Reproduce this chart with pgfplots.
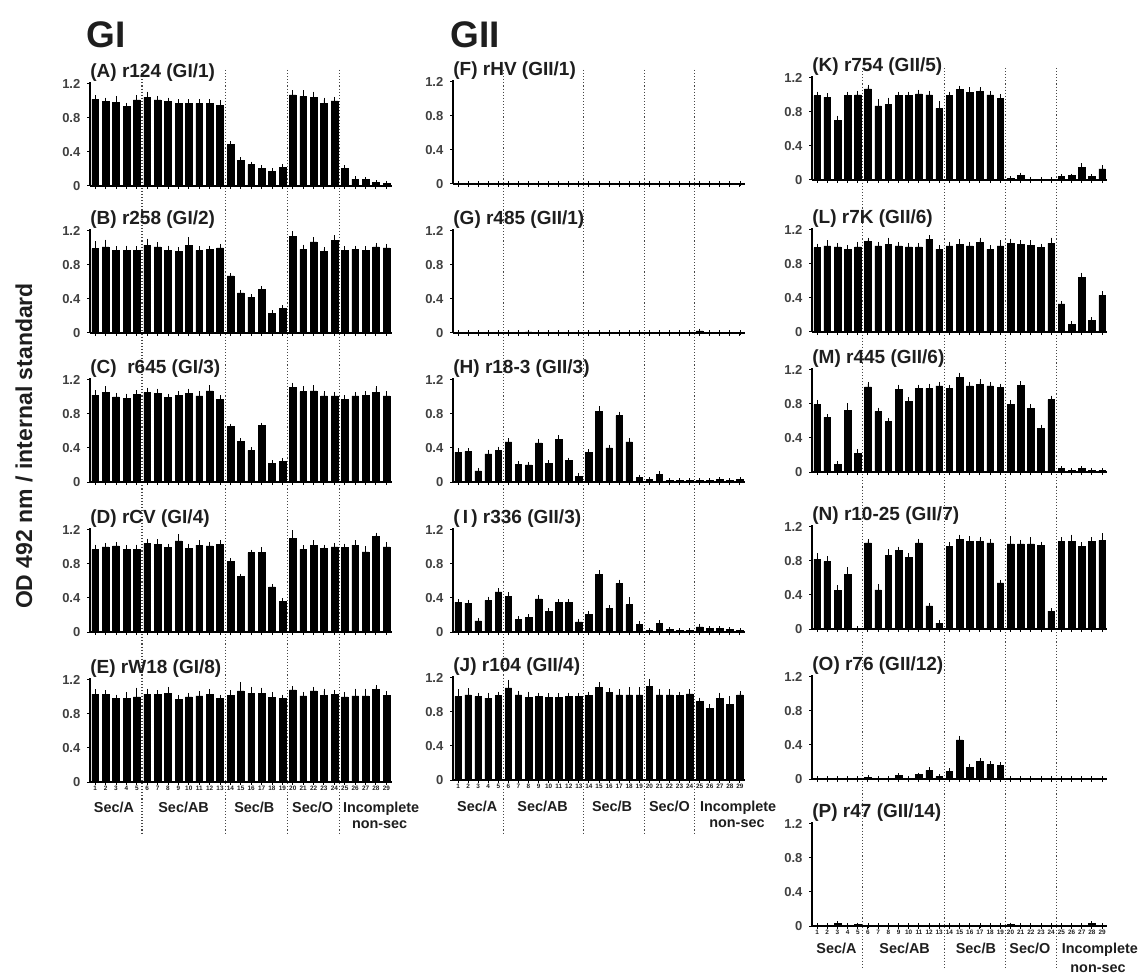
\documentclass[border=0pt]{standalone}
\usepackage{fontspec}
\setmainfont{Liberation Sans}
\usepackage{pgfplots}
\usepackage{pgfplotstable}
\pgfplotsset{compat=1.18}

\pgfplotstableread{
x A eA B eB C eC D eD E eE F G H eH I eI J eJ K eK L eL M eM N eN O eO P z
1 1.02 .02 0.99 .06 1.02 .03 0.97 .03 1.03 .03 .005 .005 .35 .02 .35 .01 .98 .06 .99 .02 .99 .02 .79 .03 .82 .04 .005 0 .005 0
2 .99 .02 1.01 .06 1.05 .05 1.00 .02 1.03 .02 .005 .005 .36 .01 .34 .01 1.00 .05 .97 .02 1.01 .04 .64 .01 .79 .04 .005 0 .005 0
3 .98 .05 .97 .02 1.00 .02 1.01 .02 .98 .02 .005 .005 .13 .01 .13 .01 .98 .02 .70 .03 1.00 .02 .09 .01 .45 .04 .008 0 .03 0
4 .93 .02 .97 .03 .98 .03 .97 .02 .98 .05 .005 .005 .33 .02 .37 .02 .96 .04 .99 .02 .97 .02 .72 .06 .64 .06 .005 0 .005 0
5 1.01 .03 .97 .02 1.03 .02 .97 .03 1.00 .08 .005 .005 .37 .02 .47 .02 .99 .02 1.00 .02 1.00 .03 .22 .02 .01 0 .005 0 .015 0
6 1.04 .04 1.03 .05 1.05 .03 1.04 .03 1.03 .04 .005 .005 .47 .02 .42 .02 1.08 .07 1.07 .02 1.06 .02 1.00 .03 1.01 .02 .02 0 .005 0
7 1.01 .02 1.01 .03 1.04 .03 1.03 .03 1.03 .02 .005 .005 .21 .01 .15 .01 1.00 .02 .87 .05 1.01 .02 .71 .02 .46 .04 .005 0 .005 0
8 .99 .02 .97 .03 .99 .02 .99 .02 1.04 .05 .005 .012 .20 .01 .17 .01 .97 .04 .89 .05 1.03 .05 .59 .02 .86 .05 .005 0 .005 0
9 .97 .02 .96 .02 1.02 .02 1.07 .05 .97 .02 .005 .005 .46 .02 .39 .02 .98 .02 .99 .02 1.01 .02 .97 .03 .92 .02 .04 0 .005 0
10 .97 .02 1.03 .07 1.04 .03 .98 .03 1.00 .02 .005 .005 .22 .01 .24 .01 .97 .02 .99 .02 1.00 .02 .83 .02 .84 .02 .005 0 .005 0
11 .97 .02 .97 .02 1.01 .03 1.02 .03 1.01 .03 .005 .005 .50 .02 .35 .01 .97 .02 1.01 .02 1.00 .02 .98 .02 1.01 .02 .05 0 .01 0
12 .97 .02 .98 .02 1.07 .04 1.01 .02 1.03 .03 .005 .005 .25 .01 .35 .01 .98 .02 1.00 .02 1.09 .02 .98 .03 .27 .01 .10 .01 .005 0
13 .95 .03 1.00 .02 .97 .02 1.03 .02 .98 .02 .005 .005 .07 .01 .12 .01 .98 .02 .84 .06 .97 .02 1.01 .02 .07 .01 .03 0 .005 0
14 .49 .01 .67 .01 .65 .01 .83 .01 1.02 .03 .005 .005 .35 .01 .21 .01 .99 .02 .99 .02 1.01 .02 .98 .02 .97 .02 .09 .01 .005 0
15 .30 .01 .47 .01 .48 .01 .65 .01 1.07 .08 .005 .005 .83 .03 .68 .02 1.09 .03 1.06 .02 1.03 .03 1.11 .03 1.05 .03 .46 .02 .01 0
16 .25 .01 .42 .01 .37 .01 .93 .01 1.04 .05 .005 .005 .40 .01 .28 .01 1.03 .02 1.03 .03 1.01 .02 1.01 .02 1.03 .03 .14 .01 .005 0
17 .21 .01 .51 .01 .66 .01 .93 .04 1.04 .04 .005 .005 .78 .02 .57 .02 1.00 .04 1.04 .02 1.05 .03 1.03 .03 1.03 .02 .21 .01 .005 0
18 .17 .01 .23 .01 .22 .01 .53 .01 .99 .04 .005 .005 .47 .02 .32 .06 1.00 .06 1.00 .02 .97 .02 1.01 .02 1.01 .02 .17 .01 .005 0
19 .22 .01 .29 .01 .24 .01 .36 .01 .98 .02 .005 .005 .05 .01 .09 .01 1.00 .06 .96 .02 1.01 .04 .99 .02 .54 .01 .16 .01 .005 0
20 1.07 .03 1.13 .04 1.11 .03 1.10 .07 1.08 .02 .005 .005 .03 0 .02 0 1.10 .06 .02 0 1.04 .03 .79 .03 1.00 .06 .005 0 .015 0
21 1.05 .05 .98 .03 1.06 .04 .97 .02 1.01 .02 .005 .005 .09 .01 .10 .01 1.00 .04 .05 .01 1.03 .02 1.02 .02 1.00 .02 .005 0 .005 0
22 1.04 .04 1.07 .03 1.07 .04 1.02 .03 1.07 .02 .005 .005 .02 0 .03 0 1.00 .04 .01 0 1.02 .03 .75 .02 1.00 .05 .005 0 .005 0
23 .97 .04 .96 .02 1.01 .03 .98 .02 1.02 .05 .005 .005 .02 0 .02 0 .99 .02 .01 0 .99 .02 .51 .02 .98 .02 .005 0 .005 0
24 1.00 .02 1.09 .03 1.01 .02 1.00 .02 1.03 .02 .005 .005 .02 0 .02 0 1.01 .03 .01 0 1.04 .04 .85 .02 .21 .01 .005 0 .005 0
25 .21 .01 .97 .02 .97 .02 .99 .02 1.00 .03 .005 .025 .02 0 .06 .01 .92 .02 .04 0 .33 .01 .04 0 1.03 .02 .005 0 .005 0
26 .08 .01 .98 .02 1.01 .02 1.02 .03 1.01 .06 .005 .005 .02 0 .04 0 .84 .02 .05 0 .09 .01 .02 0 1.03 .05 .005 0 .005 0
27 .08 0 .97 .02 1.02 .02 .94 .04 1.01 .06 .005 .005 .03 0 .04 0 .96 .04 .15 .02 .64 .03 .04 0 .97 .02 .005 0 .005 0
28 .04 0 1.01 .02 1.05 .05 1.12 .02 1.09 .02 .005 .005 .02 0 .03 0 .89 .07 .04 0 .14 .01 .02 0 1.03 .02 .005 0 .03 0
29 .03 0 1.00 .02 1.01 .03 1.00 .03 1.02 .02 .005 .005 .03 0 .02 0 1.00 .02 .13 .02 .43 .02 .02 0 1.04 .06 .005 0 .005 0
}\data

\definecolor{txt}{HTML}{1E1E1E}
\tikzset{
  ttl/.style={anchor=base west, inner sep=0pt, yshift=3pt, text=txt,
    font=\fontsize{9.5}{11}\selectfont\bfseries},
  grp/.style={anchor=base, inner sep=0pt, text=txt, font=\fontsize{7.2}{8}\selectfont\bfseries},
  dl/.style={densely dotted, line width=0.55pt, black!72},
}
\pgfplotsset{
  panel/.style={
    scale only axis, height=52pt,
    xmin=0.5, xmax=29.5, ymin=0, ymax=1.22,
    axis x line=bottom, axis y line=left,
    axis line style={-, line width=0.6pt, black},
    xtick={1,2,...,29}, xticklabels={},
    ytick={0,0.4,0.8,1.2}, yticklabels={0,0.4,0.8,1.2},
    tick align=outside, major tick length=1.3pt,
    tick style={black, line width=0.5pt},
    yticklabel style={font=\fontsize{6.5}{7}\selectfont\bfseries, text=txt!85},
    xticklabel style={font=\fontsize{3.2}{3.5}\selectfont\bfseries, inner sep=0.6pt, text=txt},
    ybar, bar width=0.65,
    clip=false,
  },
  bars/.style={fill=black, draw=black, line width=0.25pt,
    /pgfplots/error bars/y dir=plus, /pgfplots/error bars/y explicit,
    /pgfplots/error bars/error bar style={line width=0.45pt, black},
    /pgfplots/error bars/error mark options={line width=0.45pt, black, mark size=1.1pt}},
  bgcol/.style={scale only axis, hide axis, xmin=0.5, xmax=29.5,
    ymin=-973, ymax=0, height=486.5pt, clip=false},
  bottomnums/.style={xticklabels={1,2,3,4,5,6,7,8,9,10,11,12,13,14,15,16,17,18,19,20,21,22,23,24,25,26,27,28,29}},
}

\newcommand{\panel}[6]{%
\begin{axis}[panel, at={(#1,#2)}, anchor=south west, width=#3]
\addplot[bars] table[x=x, y=#4, y error=#5] {\data};
\node[ttl] at (axis cs:0.5,1.2) {#6};
\end{axis}}

\begin{document}
\begin{tikzpicture}
\path[use as bounding box] (0pt,0pt) rectangle (570.5pt,-486.5pt);

% dotted separators (background)
\begin{axis}[bgcol, at={(45pt,-486.5pt)}, anchor=south west, width=150.8pt]
\addplot[dl] coordinates {(5.5,-70) (5.5,-835)};
\addplot[dl] coordinates {(13.5,-70) (13.5,-835)};
\addplot[dl] coordinates {(19.5,-70) (19.5,-835)};
\addplot[dl] coordinates {(24.5,-70) (24.5,-835)};
\end{axis}
\begin{axis}[bgcol, at={(226.5pt,-486.5pt)}, anchor=south west, width=146pt]
\addplot[dl] coordinates {(5.5,-70) (5.5,-835)};
\addplot[dl] coordinates {(13.5,-70) (13.5,-835)};
\addplot[dl] coordinates {(19.5,-70) (19.5,-835)};
\addplot[dl] coordinates {(24.5,-70) (24.5,-835)};
\end{axis}
\begin{axis}[bgcol, at={(406pt,-486.5pt)}, anchor=south west, width=147.6pt]
\addplot[dl] coordinates {(5.5,-68) (5.5,-968)};
\addplot[dl] coordinates {(13.5,-68) (13.5,-968)};
\addplot[dl] coordinates {(19.5,-68) (19.5,-968)};
\addplot[dl] coordinates {(24.5,-68) (24.5,-968)};
\end{axis}

% headings
\node[anchor=base west, inner sep=0pt, text=txt, font=\fontsize{18.5}{20}\selectfont\bfseries] at (43pt,-24pt) {GI};
\node[anchor=base west, inner sep=0pt, text=txt, font=\fontsize{18.5}{20}\selectfont\bfseries] at (225pt,-24pt) {GII};
\node[rotate=90, text=txt, font=\fontsize{11.5}{13}\selectfont\bfseries] at (12pt,-223pt) {OD 492 nm / internal standard};

% column 1
\panel{45pt}{-93pt}{150.8pt}{A}{eA}{(A) r124 (GI/1)}
\panel{45pt}{-166.5pt}{150.8pt}{B}{eB}{(B) r258 (GI/2)}
\panel{45pt}{-241pt}{150.8pt}{C}{eC}{(C)\ \ r645 (GI/3)}
\panel{45pt}{-316pt}{150.8pt}{D}{eD}{(D) rCV (GI/4)}
\begin{axis}[panel, bottomnums, at={(45pt,-391pt)}, anchor=south west, width=150.8pt]
\addplot[bars] table[x=x, y=E, y error=eE] {\data};
\node[ttl] at (axis cs:0.5,1.2) {(E) rW18 (GI/8)};
\node[grp] at (axis cs:2.8,-0.36) {Sec/A};
\node[grp] at (axis cs:9.5,-0.36) {Sec/AB};
\node[grp] at (axis cs:16.3,-0.36) {Sec/B};
\node[grp] at (axis cs:21.9,-0.36) {Sec/O};
\node[grp, anchor=base west] at (axis cs:24.8,-0.36) {Incomplete};
\node[grp] at (axis cs:28.35,-0.55) {non-sec};
\end{axis}

% column 2
\panel{226.5pt}{-92pt}{146pt}{F}{z}{(F) rHV (GII/1)}
\panel{226.5pt}{-166.5pt}{146pt}{G}{z}{(G) r485 (GII/1)}
\panel{226.5pt}{-241pt}{146pt}{H}{eH}{(H) r18-3 (GII/3)}
\panel{226.5pt}{-316pt}{146pt}{I}{eI}{(\,I\,) r336 (GII/3)}
\begin{axis}[panel, bottomnums, at={(226.5pt,-390pt)}, anchor=south west, width=146pt]
\addplot[bars] table[x=x, y=J, y error=eJ] {\data};
\node[ttl] at (axis cs:0.5,1.2) {(J) r104 (GII/4)};
\node[grp] at (axis cs:2.9,-0.37) {Sec/A};
\node[grp] at (axis cs:9.4,-0.37) {Sec/AB};
\node[grp] at (axis cs:16.3,-0.37) {Sec/B};
\node[grp] at (axis cs:22.0,-0.37) {Sec/O};
\node[grp, anchor=base west] at (axis cs:25.0,-0.37) {Incomplete};
\node[grp] at (axis cs:28.7,-0.56) {non-sec};
\end{axis}

% column 3
\panel{406pt}{-90pt}{147.6pt}{K}{eK}{(K) r754 (GII/5)}
\panel{406pt}{-166pt}{147.6pt}{L}{eL}{(L) r7K (GII/6)}
\panel{406pt}{-236pt}{147.6pt}{M}{eM}{(M) r445 (GII/6)}
\panel{406pt}{-314.5pt}{147.6pt}{N}{eN}{(N) r10-25 (GII/7)}
\panel{406pt}{-389.5pt}{147.6pt}{O}{eO}{(O) r76 (GII/12)}
\begin{axis}[panel, bottomnums, at={(406pt,-463pt)}, anchor=south west, width=147.6pt]
\addplot[bars] table[x=x, y=P, y error=z] {\data};
\node[ttl] at (axis cs:0.5,1.2) {(P) r47 (GII/14)};
\node[grp] at (axis cs:2.9,-0.32) {Sec/A};
\node[grp] at (axis cs:9.6,-0.32) {Sec/AB};
\node[grp] at (axis cs:16.6,-0.32) {Sec/B};
\node[grp] at (axis cs:21.9,-0.32) {Sec/O};
\node[grp, anchor=base west] at (axis cs:25.0,-0.32) {Incomplete};
\node[grp] at (axis cs:28.6,-0.54) {non-sec};
\end{axis}
\end{tikzpicture}
\end{document}
